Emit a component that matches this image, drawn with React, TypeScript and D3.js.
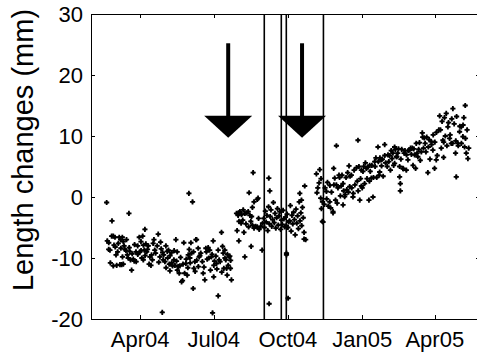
import React from "react";
import * as d3 from "d3";

// ---- data (day offsets from 2004-01-31, length change in mm) ----
const START = new Date(2004, 0, 31);
const END = new Date(2005, 4, 27);

const segmentA: [number, number][] = [
  [19.4,-0.9],[26,-3.9],[47,-2.7],[20.2,-7.2],[21.9,-8.6],[23.5,-8.7],[25.6,-6.4],[27.6,-6.4],[29.7,-6.6],[28.5,-7.9],
  [31,-9.5],[27.6,-11.3],[31.8,-11.2],[35.9,-11.1],[38,-11.1],[40,-11.0],[33.8,-7.6],[35,-6.6],[36.7,-7.0],[38.8,-6.6],
  [40,-7.3],[42,-8.6],[43.3,-8.8],[45,-9.5],[47.4,-8.3],[49,-10.3],[50.3,-12.0],[52.4,-10.2],[53.6,-10.5],[55.7,-9.0],
  [57.8,-8.0],[59.8,-6.6],[60.6,-9.0],[61.9,-7.3],[64,-6.4],[64.8,-10.3],[66,-8.7],[66.8,-5.3],[68,-7.7],[69,-9.0],
  [70,-8.6],[72,-11.0],[74.3,-11.2],[75,-9.5],[77,-7.6],[78,-7.0],[79,-8.7],[83.3,-6.1],[85.4,-9.8],[86.2,-7.4],
  [88.7,-9.1],[89.5,-10.3],[91.6,-10.6],[92.8,-8.0],[94.5,-8.9],[96,-8.7],[97,-11.0],[97.8,-12.1],[99.8,-9.1],[101,-11.3],
  [102.7,-10.3],[104,-11.2],[105.2,-7.0],[106.8,-9.0],[108,-11.4],[109.3,-12.5],[110,-11.3],[112.2,-13.9],[113.4,-13.7],[115,-7.5],
  [116,-12.5],[117.6,-10.9],[119.2,-12.8],[120.5,-9.5],[121.7,-8.6],[122.5,-10.0],[123.8,-7.5],[124.6,-9.2],[125.8,-0.8],[121.3,0.6],
  [126.6,-15.0],[127.5,-11.7],[128.7,-10.6],[130,-7.0],[130.8,-7.0],[132.8,-8.4],[134,-9.8],[135,-9.6],[139,-12.5],[141,-13.6],
  [142.3,-8.4],[144,-10.2],[88.3,-18.9],[145.2,-8.3],[147,-8.7],[149.3,-9.8],[151.4,-7.2],[152.2,-11.2],[154.7,-9.7],[155.5,-10.9],
  [157.6,-8.7],[158.8,-10.3],[161.7,-5.8],[163,-8.1],[163.8,-9.2],[164.6,-11.7],[165.8,-8.7],[167,-10.3],[168,-11.7],[168.7,-12.8],
  [170,-11.2],[171.2,-9.8],[172,-9.7],[172.8,-11.7],[174,-13.6],[157.6,-16.2],[150.6,-19.0],[152,-13.1],
  [22,-7.5],[24,-10.8],[30,-8.2],[33,-9.0],[37,-8.4],[39,-9.8],[41,-8.0],[44,-7.0],[46,-10.0],[48,-8.9],
  [51,-9.3],[54,-7.8],[56,-10.6],[58,-9.4],[62,-8.8],[63,-10.0],[65,-7.9],[67,-9.6],[71,-8.0],[73,-9.8],
  [76,-10.3],[80,-9.2],[82,-8.0],[84,-10.7],[87,-8.5],[90,-9.5],[93,-11.6],[95,-10.0],[98,-9.6],[100,-10.8],
  [103,-8.8],[106,-10.5],[107,-12.0],[111,-9.9],[114,-11.0],[118,-10.2],[120,-11.6],[123,-10.8],[127,-9.0],[129,-12.2],
  [131,-10.4],[133,-11.4],[136,-9.2],[138,-10.6],[140,-11.5],[143,-9.0],[146,-10.0],[148,-12.0],[150,-9.4],[153,-10.5],
  [156,-11.8],[160,-10.6],[162,-12.3],[166,-10.0],[169,-9.4],[173,-10.4],
];

const segmentB: [number, number][] = [
  [180.3,-2.7],[182.3,-3.0],[183,-2.6],[184.5,-2.4],[186.6,-2.9],[188.6,-2.1],[190.7,-2.7],[192.8,-2.6],[194.8,-2.4],[196.9,-3.0],
  [199,-3.2],[183.4,-4.0],[186,-4.3],[188,-3.8],[192,-4.4],[195.3,-4.9],[198,-4.0],[200,-4.6],[202,-5.1],[204,-4.8],
  [206,-4.9],[208.4,-5.3],[210.4,-4.8],[207.6,-3.5],[212.5,-4.3],[200,-1.7],[202,-0.8],[206,-0.4],
  [183.2,-7.2],[182.3,-2.8],[190.6,-9.8],[195.9,0.7],[200.9,4.0],[198.4,-8.1],[207,-0.2],[212,-8.7],[181,-5.5],[189.5,-5.8],
];

const segmentC: [number, number][] = [
  [214,-3.5],[215,-5.0],[216,-2.3],[217,-4.1],[218,-3.0],[219,-5.5],[220,-1.6],[221,-4.4],[222,-3.2],[223,-2.1],
  [224,-4.8],[225,-3.7],[226,-0.9],[227,-4.2],[228,-2.7],[229,-5.1],[230,-3.4],[231,-1.9],[232,-4.6],[233,-3.1],
  [234,-2.4],[235,-5.3],[236,-3.8],[237,-4.5],[238,-2.2],[239,-3.6],[240,-4.9],[241,-3.3],[242,-4.7],[243,-2.8],
  [244,-5.0],[245,-4.1],[246,-3.9],[247,-1.4],[248,-5.6],[249,-3.0],[250,-4.4],[251,-2.5],[252,-3.7],[253,-6.2],
  [254,-2.0],[255,-4.3],[256,-3.1],[257,-5.2],[258,-0.8],[259,-3.9],[260,-2.6],[261,-4.7],[262,-1.7],[263,-3.4],[264,-5.8],
  [220.3,3.1],[221.5,1.0],[220.7,-17.5],[244.2,-16.6],[242.2,-9.2],[264,-6.9],[258.7,0.6],[264.8,1.8],[260.8,-0.5],[266,-7.0],[242.2,-9.5],
  [279.3,3.8],[283.4,4.5],[282.6,2.3],[280,0.7],[284.6,-0.2],[285.5,-1.9],[286.7,-4.0],[286.8,-0.8],[287.5,-4.1],[281,1.5],[285,3.0],
];

const segmentD: [number, number][] = [
  [291.7,0.9],[295.8,-0.8],[299.9,-2.6],[302,3.1],[307.3,3.6],[300.7,4.7],[312.3,2.2],[314.3,0.05],[319.7,5.1],[322.6,3.6],
  [320.5,1.7],[324.6,0],[312.3,-1.3],[333,-0.5],[344.4,-0.5],[349.4,0],[335,1.8],[335,4.4],[341.2,4.7],[345.3,5.2],
  [347.4,3.1],[351.5,5.8],[355.6,8.2],[357.7,4.1],[359.8,6.1],[363.9,8.6],[376.2,8.2],[378.3,6.6],[376.2,5.5],[382.4,5.0],
  [382.4,3.3],[383.3,2.2],[383.3,1.0],[386.5,4.7],[390.7,4.4],[392.7,6.1],[394.8,7.7],[401,6.9],[402.2,4.7],[405,6.6],
  [409.3,7.4],[410.5,10.5],[417.4,4.0],[421.6,9.1],[423.6,7.7],[425.7,4.7],[427.8,6.1],[431,11.0],[432,13.3],[436,9.3],
  [436.9,6.5],[440.2,13.7],[442.2,11.5],[444.3,9.6],[446.4,8.8],[448.4,14.5],[451.7,7.2],[452.6,3.3],[454.6,8.8],[456.7,10.7],
  [458.8,11.5],[460.8,9.9],[462.9,8.2],[463.7,15.0],[467,6.3],[465,7.2],[304.1,8.4],[330.8,9.3],[299.9,-2.4],
  [289,-1.2],[290,1.5],[292,-0.3],[293,2.4],[294,-1.5],[296,1.9],[297,-1.8],[298,0.8],[301,2.0],[303,-0.5],
  [304,2.0],[305,-1.0],[306,1.5],[308,3.2],[309,0.2],[310,1.8],[311,3.6],[313,1.0],[315,0.4],[316,3.2],
  [317,1.2],[318,4.0],[319,0.8],[321,3.4],[323,1.5],[325,0.6],[326,4.4],[327,2.0],[329,4.8],[330,2.6],
  [331,1.0],[332,5.0],[334,3.0],[336,1.5],[337,4.2],[338,5.0],[339,2.2],[340,5.6],[342,3.0],[343,4.9],
  [345,2.6],[346,4.2],[348,5.2],[350,3.2],[352,5.0],[353,6.4],[354,3.2],[356,5.8],[357,3.6],[358,6.4],
  [360,5.1],[361,6.2],[362,3.4],[364,6.8],[365,5.6],[367,5.0],[368,6.9],[369,5.8],[370,6.8],[371,4.4],
  [372,7.6],[373,6.3],[374,7.2],[375,5.2],[377,7.8],[379,6.6],[380,7.2],[381,7.9],[384,6.2],[385,7.8],
  [387,4.6],[388,7.2],[389,7.6],[391,6.9],[393,7.6],[396,8.0],[397,7.0],[398,8.0],[399,5.2],[400,7.9],
  [403,8.8],[404,7.2],[406,7.8],[407,8.9],[408,6.0],[411,9.8],[412,8.0],[413,9.7],[414,8.8],[415,7.4],
  [416,9.8],[418,8.2],[419,9.4],[420,6.2],[422,8.6],[424,10.2],[426,9.0],[428,10.6],[429,6.8],[433,11.0],
  [434,8.0],[435,12.4],[437,9.0],[438,13.0],[439,10.0],[441,8.4],[443,12.2],[445,10.2],[447,12.8],[448,8.8],
  [450,12.0],[452,9.2],[453,13.2],[455,8.4],[457,11.6],[459,8.8],[461,11.8],[462,13.0],[464,9.6],[466,11.0],[468,8.0],
];

const eventLineDays = [214.7, 235.8, 242.0, 288.0];
const arrowDays = [170, 261.5];
const arrowTopValue = 25.2;
const arrowTipValue = 9.7;

const yTicks = [-20, -10, 0, 10, 20, 30];
const xTickDates = [new Date(2004, 3, 1), new Date(2004, 6, 1), new Date(2004, 9, 1), new Date(2005, 0, 1), new Date(2005, 3, 1)];
const xTickLabels = ["Apr04", "Jul04", "Oct04", "Jan05", "Apr05"];
const yLabel = "Length changes (mm)";

const W = 477, H = 356;
const L = 91, R = 480, T = 14, B = 319;
const FONT = "'Liberation Sans', Arial, Helvetica, sans-serif";

const dayToDate = (d: number) => new Date(START.getTime() + d * 86400000);

// small blocky plus marker
const MARKER = "M-2.6,-0.9h5.2v1.8h-5.2z M-0.9,-2.6h1.8v5.2h-1.8z M-1.3,-1.3h2.6v2.6h-2.6z";

export default function App() {
  const x = d3.scaleTime().domain([START, END]).range([L, R]);
  const y = d3.scaleLinear().domain([-20, 30]).range([B, T]);
  const points = [...segmentA, ...segmentB, ...segmentC, ...segmentD];
  const tickLen = 4;

  return (
    <svg width={W} height={H} style={{ position: "absolute", left: 0, top: 0, background: "#fff" }}>
      <rect x={0} y={0} width={W} height={H} fill="#fff" />
      {/* points */}
      <g fill="#000">
        {points.map(([d, v], i) => (
          <path key={i} d={MARKER} transform={`translate(${x(dayToDate(d))},${y(v)})`} />
        ))}
      </g>
      {/* event lines */}
      <g stroke="#000" strokeWidth={1.6}>
        {eventLineDays.map((d, i) => {
          const xx = x(dayToDate(d));
          return <line key={i} x1={xx} x2={xx} y1={T} y2={B} />;
        })}
      </g>
      {/* arrows */}
      <g fill="#000" stroke="none">
        {arrowDays.map((d, i) => {
          const cx = x(dayToDate(d));
          const yTop = y(arrowTopValue);
          const yTip = y(arrowTipValue);
          const headLen = 22;
          const half = 24;
          const base = yTip - headLen;
          return (
            <g key={i}>
              <rect x={cx - 2} y={yTop} width={4} height={base - yTop + 1} />
              <path d={`M${cx - half},${base} L${cx + half},${base} L${cx},${yTip} Z`} />
            </g>
          );
        })}
      </g>
      {/* box */}
      <g stroke="#000" strokeWidth={1} fill="none">
        <rect x={L + 0.5} y={T + 0.5} width={R - L} height={B - T} />
        {yTicks.map((t) => (
          <g key={t}>
            <line x1={L} x2={L + tickLen} y1={Math.round(y(t)) + 0.5} y2={Math.round(y(t)) + 0.5} />
            <line x1={R - tickLen} x2={R} y1={Math.round(y(t)) + 0.5} y2={Math.round(y(t)) + 0.5} />
          </g>
        ))}
        {xTickDates.map((t, i) => {
          const xx = Math.round(x(t)) + 0.5;
          return (
            <g key={i}>
              <line x1={xx} x2={xx} y1={B} y2={B - tickLen} />
              <line x1={xx} x2={xx} y1={T} y2={T + tickLen} />
            </g>
          );
        })}
      </g>
      {/* tick labels */}
      <g fontFamily={FONT} fontSize={22} fill="#000">
        {yTicks.map((t) => (
          <text key={t} x={83} y={y(t) + 8} textAnchor="end">{t}</text>
        ))}
        {xTickDates.map((t, i) => (
          <text key={i} x={x(t)} y={347} textAnchor="middle">{xTickLabels[i]}</text>
        ))}
      </g>
      <text transform="translate(33,150) rotate(-90)" textAnchor="middle" fontFamily={FONT} fontSize={29} fill="#000">
        {yLabel}
      </text>
    </svg>
  );
}
